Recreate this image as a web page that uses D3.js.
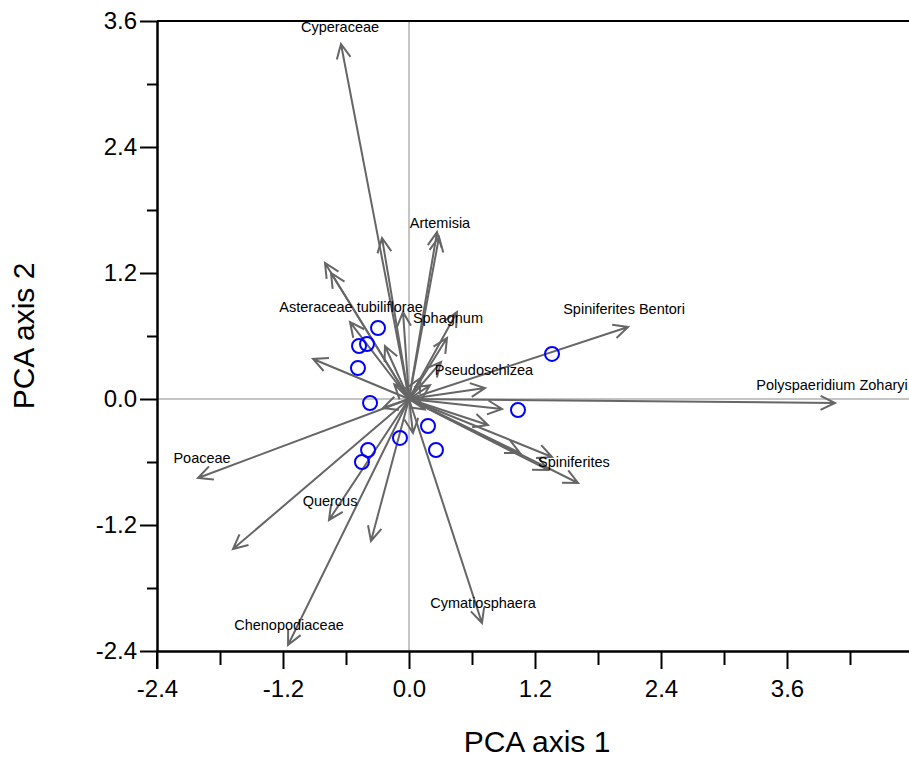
<!DOCTYPE html>
<html>
<head>
<meta charset="utf-8">
<script src="https://cdn.jsdelivr.net/npm/d3@7"></script>
<style>
  body { margin: 0; background: #fff; }
  svg { display: block; font-family: "Liberation Sans", Arial, sans-serif; }
</style>
</head>
<body>
<div id="vis"></div>
<script>
const FRAME_WIDTH = 909;
const FRAME_HEIGHT = 760;
const MARGINS = {left: 157, right: 0, top: 21, bottom: 109};

// species arrows (PCA axis 1, PCA axis 2)
const ARROW_X = [-0.648, -0.257, 0.267, 0.286, -0.800, -0.743, -0.562, -0.914, -0.057, -0.229,
                 0.457, 0.362, 0.305, 2.086, 0.724, 4.057, 0.886, 0.752, 1.057, 1.362,
                 1.324, 1.610, 0.695, 0.038, -0.362, -0.762, -1.152, -1.676, -2.010, -0.248,
                 0.20, 0.15, -0.14, 0.11];
const ARROW_Y = [3.381, 1.533, 1.590, 1.543, 1.295, 1.200, 0.733, 0.381, 0.829, 0.505,
                 0.829, 0.581, 0.352, 0.686, 0.105, -0.038, -0.095, -0.248, -0.514, -0.552,
                 -0.676, -0.800, -2.133, -0.324, -1.352, -1.152, -2.343, -1.429, -0.752, -0.086,
                 0.13, -0.10, 0.14, 0.20];

// species names as printed
const LABEL_TEXT = ["Cyperaceae", "Artemisia", "Asteraceae tubiliflorae", "Sphagnum",
                    "Pseudoschizea", "Spiniferites Bentori", "Polyspaeridium Zoharyi",
                    "Spiniferites", "Poaceae", "Quercus", "Chenopodiaceae", "Cymatiosphaera"];
const LABEL_X = [-0.657, 0.295, -0.552, 0.371, 0.714, 2.048, 4.029, 1.571, -1.971, -0.752, -1.143, 0.705];
const LABEL_Y = [3.495, 1.629, 0.829, 0.724, 0.229, 0.810, 0.086, -0.648, -0.610, -1.019, -2.200, -1.990];

// sample scores
const SAMPLE_X = [-0.295, -0.476, -0.400, -0.486, -0.371, -0.086, -0.390, -0.448, 0.181, 0.257, 1.362, 1.038];
const SAMPLE_Y = [0.676, 0.505, 0.524, 0.295, -0.038, -0.371, -0.486, -0.600, -0.257, -0.486, 0.429, -0.105];

const X_MAJOR = [-2.4, -1.2, 0.0, 1.2, 2.4, 3.6];
const X_MINOR = [-1.8, -0.6, 0.6, 1.8, 3.0, 4.2];
const Y_MAJOR = [-2.4, -1.2, 0.0, 1.2, 2.4, 3.6];
const Y_MINOR = [-1.8, -0.6, 0.6, 1.8, 3.0];

const FRAME = d3.select("#vis")
                .append("svg")
                  .attr("width", FRAME_WIDTH)
                  .attr("height", FRAME_HEIGHT);

const VIS_WIDTH = FRAME_WIDTH - MARGINS.left - MARGINS.right;
const VIS_HEIGHT = FRAME_HEIGHT - MARGINS.top - MARGINS.bottom;

// 105 px per unit on both axes
const X_SCALE = d3.scaleLinear()
                  .domain([-2.4, -2.4 + VIS_WIDTH / 105])
                  .range([MARGINS.left, MARGINS.left + VIS_WIDTH]);
const Y_SCALE = d3.scaleLinear()
                  .domain([-2.4, 3.6])
                  .range([MARGINS.top + VIS_HEIGHT, MARGINS.top]);

const fmt = (d) => d.toFixed(1);

// zero lines
FRAME.append("line")
      .attr("x1", X_SCALE.range()[0]).attr("x2", X_SCALE.range()[1])
      .attr("y1", Y_SCALE(0)).attr("y2", Y_SCALE(0))
      .attr("stroke", "#c4c4c4").attr("stroke-width", 2);
FRAME.append("line")
      .attr("x1", X_SCALE(0)).attr("x2", X_SCALE(0))
      .attr("y1", Y_SCALE.range()[0]).attr("y2", Y_SCALE.range()[1])
      .attr("stroke", "#c4c4c4").attr("stroke-width", 2);

// arrows
const arrows = ARROW_X.map((x, i) => ({x: x, y: ARROW_Y[i]}));
const HEAD = 16, ANG = 0.45;

FRAME.append("g")
  .selectAll("path")
  .data(arrows)
  .enter()
  .append("path")
    .attr("d", (d) => {
      const x0 = X_SCALE(0), y0 = Y_SCALE(0);
      const x1 = X_SCALE(d.x), y1 = Y_SCALE(d.y);
      const a = Math.atan2(y1 - y0, x1 - x0);
      const bx1 = x1 - HEAD * Math.cos(a - ANG), by1 = y1 - HEAD * Math.sin(a - ANG);
      const bx2 = x1 - HEAD * Math.cos(a + ANG), by2 = y1 - HEAD * Math.sin(a + ANG);
      return "M" + x0 + "," + y0 + "L" + x1 + "," + y1 +
             "M" + bx1 + "," + by1 + "L" + x1 + "," + y1 + "L" + bx2 + "," + by2;
    })
    .attr("fill", "none")
    .attr("stroke", "#666")
    .attr("stroke-width", 2);

// samples
FRAME.append("g")
  .selectAll("circle")
  .data(SAMPLE_X)
  .enter()
  .append("circle")
    .attr("cx", (d) => X_SCALE(d))
    .attr("cy", (d, i) => Y_SCALE(SAMPLE_Y[i]))
    .attr("r", 7)
    .attr("fill", "none")
    .attr("stroke", "#0000ff")
    .attr("stroke-width", 2);

// species labels
FRAME.append("g")
  .selectAll("text")
  .data(LABEL_TEXT)
  .enter()
  .append("text")
    .attr("x", (d, i) => X_SCALE(LABEL_X[i]))
    .attr("y", (d, i) => Y_SCALE(LABEL_Y[i]))
    .attr("text-anchor", "middle")
    .attr("font-size", "14.5px")
    .attr("fill", "#000")
    .text((d) => d);

// top frame line
FRAME.append("line")
      .attr("x1", X_SCALE.range()[0]).attr("x2", X_SCALE.range()[1])
      .attr("y1", MARGINS.top).attr("y2", MARGINS.top)
      .attr("stroke", "#000").attr("stroke-width", 2);

// axes
FRAME.append("g")
      .attr("transform", "translate(" + MARGINS.left + ",0)")
      .call(d3.axisLeft(Y_SCALE).tickValues(Y_MAJOR).tickFormat(fmt)
              .tickSize(17).tickSizeOuter(0).tickPadding(3));
FRAME.append("g")
      .attr("transform", "translate(" + MARGINS.left + ",0)")
      .call(d3.axisLeft(Y_SCALE).tickValues(Y_MINOR).tickFormat("")
              .tickSize(10).tickSizeOuter(0));

FRAME.append("g")
      .attr("transform", "translate(0," + (MARGINS.top + VIS_HEIGHT) + ")")
      .call(d3.axisBottom(X_SCALE).tickValues(X_MAJOR).tickFormat(fmt)
              .tickSize(18).tickSizeOuter(0).tickPadding(11));
FRAME.append("g")
      .attr("transform", "translate(0," + (MARGINS.top + VIS_HEIGHT) + ")")
      .call(d3.axisBottom(X_SCALE).tickValues(X_MINOR).tickFormat("")
              .tickSize(14).tickSizeOuter(0));

FRAME.selectAll(".domain, .tick line")
      .attr("stroke", "#000")
      .attr("stroke-width", 2);
FRAME.selectAll(".tick text")
      .attr("font-family", "'Liberation Sans', Arial, sans-serif")
      .attr("font-size", "24px")
      .attr("fill", "#000");

// extend y axis slightly below the x axis
FRAME.append("line")
      .attr("x1", MARGINS.left).attr("x2", MARGINS.left)
      .attr("y1", MARGINS.top + VIS_HEIGHT).attr("y2", MARGINS.top + VIS_HEIGHT + 18)
      .attr("stroke", "#000").attr("stroke-width", 2);

// axis titles
FRAME.append("text")
      .attr("x", 537)
      .attr("y", 752)
      .attr("text-anchor", "middle")
      .attr("font-size", "30px")
      .text("PCA axis 1");
FRAME.append("text")
      .attr("transform", "translate(34," + (MARGINS.top + VIS_HEIGHT / 2) + ") rotate(-90)")
      .attr("text-anchor", "middle")
      .attr("font-size", "30px")
      .text("PCA axis 2");
</script>
</body>
</html>
